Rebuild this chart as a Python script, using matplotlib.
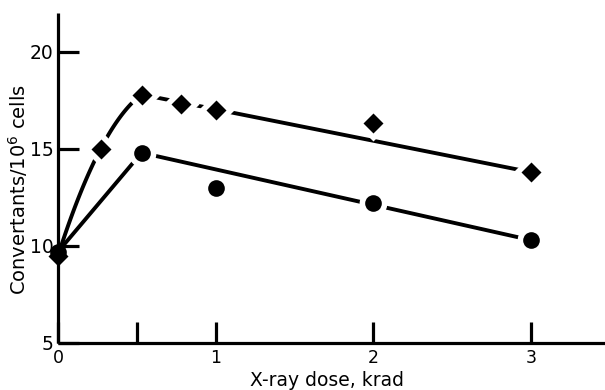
"""
Convertants per 10^6 cells vs X-ray dose (two strains)
"""

import matplotlib
matplotlib.use("Agg")
import matplotlib.pyplot as plt
import numpy as np

# --- data ---
dose_diamond = [0.0, 0.27, 0.53, 0.78, 1.0, 2.0, 3.0]
conv_diamond = [9.5, 15.0, 17.8, 17.3, 17.0, 16.35, 13.8]

dose_circle = [0.0, 0.53, 1.0, 2.0, 3.0]
conv_circle = [9.7, 14.8, 13.0, 12.2, 10.3]

x_ticks = [0, 0.5, 1, 2, 3]
x_tick_labels = ["0", "", "1", "2", "3"]
y_ticks = [5, 10, 15, 20]
y_tick_labels = ["5", "10", "15", "20"]

plt.rcParams["font.family"] = ["DejaVu Sans"]

fig = plt.figure(figsize=(6.05, 3.9), dpi=100)
ax = fig.add_axes([58 / 605, 47 / 390, 547 / 605, 330 / 390])

lw = 2.8

# diamond series: rising curve through the first three points, then straight decline
k = 3
coef = np.polyfit(dose_diamond[:k], conv_diamond[:k], 2)
xs = np.linspace(dose_diamond[0], dose_diamond[k - 1], 60)
ax.plot(xs, np.polyval(coef, xs), color="black", lw=lw, solid_capstyle="round", zorder=2)
ax.plot([dose_diamond[k - 1], dose_diamond[-1]], [conv_diamond[k - 1], conv_diamond[-1]],
        color="black", lw=lw, solid_capstyle="round", zorder=2)

# circle series: straight rise to the peak, then straight decline
ax.plot(dose_circle[:2], conv_circle[:2], color="black", lw=lw, solid_capstyle="round", zorder=2)
ax.plot([dose_circle[1], dose_circle[-1]], [conv_circle[1], conv_circle[-1]],
        color="black", lw=lw, solid_capstyle="round", zorder=2)

# white halos break the lines around the markers (not at dose 0)
ax.plot(dose_diamond[1:], conv_diamond[1:], "D", ms=18.5, color="white", mec="none", zorder=3)
ax.plot(dose_circle[1:], conv_circle[1:], "o", ms=20, color="white", mec="none", zorder=3)

ax.plot(dose_diamond, conv_diamond, "D", ms=10.5, color="black", mec="none", zorder=4,
        clip_on=False)
ax.plot(dose_circle, conv_circle, "o", ms=12, color="black", mec="none", zorder=4,
        clip_on=False)

ax.set_xlim(0, 3.47)
ax.set_ylim(5, 22)

for side in ["top", "right"]:
    ax.spines[side].set_visible(False)
for side in ["left", "bottom"]:
    ax.spines[side].set_linewidth(2.3)
    ax.spines[side].set_capstyle("butt")

ax.set_xticks(x_ticks)
ax.set_xticklabels(x_tick_labels)
ax.set_yticks(y_ticks)
ax.set_yticklabels(y_tick_labels)
ax.tick_params(axis="both", direction="in", length=15, width=2.3)
ax.tick_params(axis="x", labelsize=12.5, pad=4)
ax.tick_params(axis="y", labelsize=13.5, pad=3)

fig.text(327 / 605, 1 - 380 / 390, "X-ray dose, krad", ha="center", va="center", fontsize=13.5)
fig.text(18 / 605, 1 - 190 / 390, "Convertants/10$^6$ cells", ha="center", va="center",
         rotation=90, fontsize=14)

fig.savefig("out.png", dpi=100)
